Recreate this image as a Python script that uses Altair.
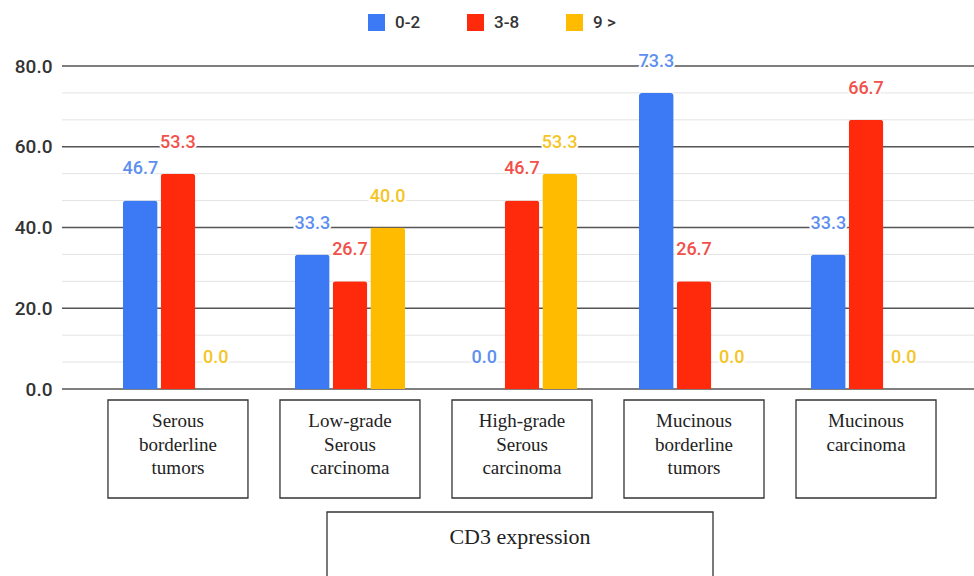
import altair as alt
import pandas as pd

# Tumour groups (x axis) and their boxed labels
categories = [
    "Serous borderline tumors",
    "Low-grade Serous carcinoma",
    "High-grade Serous carcinoma",
    "Mucinous borderline tumors",
    "Mucinous carcinoma",
]
category_labels = [
    "Serous\nborderline\ntumors",
    "Low-grade\nSerous\ncarcinoma",
    "High-grade\nSerous\ncarcinoma",
    "Mucinous\nborderline\ntumors",
    "Mucinous\ncarcinoma",
]

# CD3 expression score groups
series = ["0-2", "3-8", "9 >"]

# Percentage of cases per score group
values_0_2 = [46.7, 33.3, 0.0, 73.3, 33.3]
values_3_8 = [53.3, 26.7, 46.7, 26.7, 66.7]
values_9 = [0.0, 40.0, 53.3, 0.0, 0.0]

y_ticks = [0, 20, 40, 60, 80]
axis_title = "CD3 expression"

bar_colors = ["#3B79F5", "#FF2A0C", "#FFBB00"]
label_colors = ["#5E8FF0", "#F2504A", "#F4C526"]

rows = []
for s, vals in zip(series, [values_0_2, values_3_8, values_9]):
    for c, v in zip(categories, vals):
        rows.append({"category": c, "series": s, "value": v})
df = pd.DataFrame(rows)

labels_df = pd.DataFrame({"category": categories, "label": category_labels})
major_df = pd.DataFrame({"value": y_ticks})
minor_df = pd.DataFrame({"value": [t + d for t in y_ticks[:-1] for d in (20 / 3, 40 / 3)]})
title_df = pd.DataFrame({"t": [axis_title]})

W, H = 912, 323
y_scale = alt.Scale(domain=[0, 80], nice=False)
y_axis = alt.Axis(
    values=y_ticks,
    format=".1f",
    grid=False,
    domain=False,
    ticks=False,
    labelPadding=10,
    labelFontSize=19,
    labelFontWeight=500,
    labelFont="Roboto",
    labelColor="#333333",
    title=None,
)
y_enc = alt.Y("value:Q", scale=y_scale, axis=y_axis)
x_enc = alt.X(
    "category:N",
    sort=categories,
    scale=alt.Scale(paddingInner=0.36, paddingOuter=0.331, align=0.535),
    axis=None,
)
xo_enc = alt.XOffset("series:N", sort=series, scale=alt.Scale(paddingInner=0.08, paddingOuter=0))

minor_grid = alt.Chart(minor_df).mark_rule(color="#e3e3e3", strokeWidth=1).encode(
    y=y_enc, x=alt.value(0), x2=alt.value(W)
)
major_grid = alt.Chart(major_df).mark_rule(color="#555555", strokeWidth=1.5).encode(
    y=y_enc, x=alt.value(0), x2=alt.value(W)
)

bars = alt.Chart(df).mark_bar(cornerRadiusTopLeft=3, cornerRadiusTopRight=3).encode(
    x=x_enc,
    xOffset=xo_enc,
    y=y_enc,
    color=alt.Color(
        "series:N",
        sort=series,
        scale=alt.Scale(domain=series, range=bar_colors),
        legend=alt.Legend(
            orient="none",
            legendX=306,
            legendY=-52,
            direction="horizontal",
            title=None,
            symbolType="square",
            symbolSize=289,
            symbolStrokeWidth=0,
            labelFontSize=17,
            labelFontWeight=500,
            labelFont="Roboto",
            labelColor="#333333",
            labelOffset=10,
            columnPadding=46,
            padding=0,
        ),
    ),
)

label_base = alt.Chart(df).encode(
    x=x_enc,
    xOffset=xo_enc,
    y=y_enc,
    text=alt.Text("value:Q", format=".1f"),
)
label_halo = label_base.mark_text(
    dy=-31, fontSize=18, fontWeight=500, font="Roboto",
    fill="white", stroke="white", strokeWidth=4,
)
value_labels = label_base.mark_text(dy=-31, fontSize=18, fontWeight=500, font="Roboto").encode(
    fill=alt.Fill("series:N", scale=alt.Scale(domain=series, range=label_colors), legend=None)
)

boxes = alt.Chart(labels_df).mark_bar(
    width=140, fill="white", stroke="#333333", strokeWidth=1.3
).encode(x=x_enc, y=alt.value(334), y2=alt.value(432))

box_text = alt.Chart(labels_df).mark_text(
    font="Liberation Serif", fontSize=19, lineBreak="\n", lineHeight=23.5,
    baseline="top", color="#222222",
).encode(x=x_enc, y=alt.value(346), text="label:N")

title_box = alt.Chart(title_df).mark_rect(
    fill="white", stroke="#333333", strokeWidth=1.3
).encode(x=alt.value(265), x2=alt.value(651), y=alt.value(446), y2=alt.value(530))

title_text = alt.Chart(title_df).mark_text(
    font="Liberation Serif", fontSize=22, color="#222222", baseline="middle"
).encode(x=alt.value(458), y=alt.value(471), text="t:N")

chart = (
    alt.layer(
        minor_grid, major_grid, bars, label_halo, value_labels,
        boxes, box_text, title_box, title_text,
    )
    .resolve_scale(fill="independent")
    .properties(
        width=W,
        height=H,
        autosize="none",
        padding={"left": 62, "top": 66, "right": 0, "bottom": 187},
        background="white",
    )
    .configure_view(stroke=None)
)

chart.save("out.html", embed_options={"renderer": "svg", "actions": False})
